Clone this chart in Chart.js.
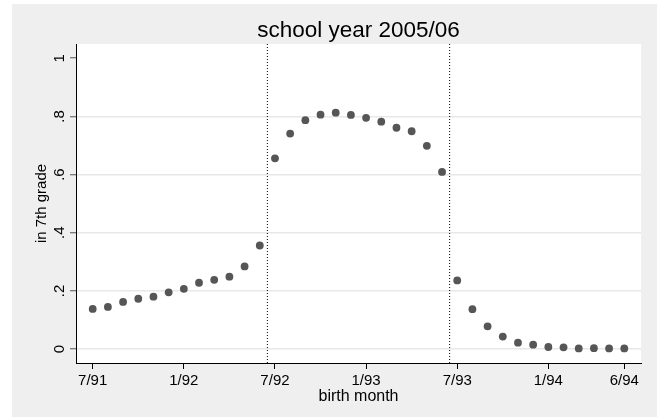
<!DOCTYPE html>
<html>
<head>
<meta charset="utf-8">
<script src="https://cdn.jsdelivr.net/npm/chart.js@4.4.1/dist/chart.umd.min.js"></script>
<style>
  html, body { margin: 0; padding: 0; background: #fff; }
  canvas { display: block; }
</style>
</head>
<body>
<canvas id="chart" width="657" height="417"></canvas>
<script>
// Birth months, July 1991 through June 1994
const birthMonths = [
  '7/91','8/91','9/91','10/91','11/91','12/91',
  '1/92','2/92','3/92','4/92','5/92','6/92',
  '7/92','8/92','9/92','10/92','11/92','12/92',
  '1/93','2/93','3/93','4/93','5/93','6/93',
  '7/93','8/93','9/93','10/93','11/93','12/93',
  '1/94','2/94','3/94','4/94','5/94','6/94'
];

// Share of each birth cohort attending 7th grade in 2005/06
const shareIn7thGrade = [
  0.138, 0.145, 0.162, 0.173, 0.180, 0.195,
  0.207, 0.228, 0.238, 0.249, 0.284, 0.356,
  0.656, 0.741, 0.787, 0.806, 0.813, 0.805,
  0.795, 0.782, 0.761, 0.749, 0.699, 0.609,
  0.236, 0.137, 0.078, 0.043, 0.022, 0.015,
  0.007, 0.006, 0.002, 0.003, 0.002, 0.002
];

// Axis ticks
const xTickMonths = [0, 6, 12, 18, 24, 30, 35];
const yTickValues = [0, 0.2, 0.4, 0.6, 0.8, 1];
const yTickLabels = ['0', '.2', '.4', '.6', '.8', '1'];

// School-entry cutoffs, between June and July
const cutoffMonths = [11.5, 23.5];

const Y_MIN = -0.048, Y_MAX = 1.049;
const FONT = '"Liberation Sans", Arial, Helvetica, sans-serif';

// Grey page with a white plot region
const backdrop = {
  id: 'backdrop',
  beforeDraw(chart) {
    const { ctx, chartArea: a } = chart;
    ctx.save();
    ctx.fillStyle = '#ffffff';
    ctx.fillRect(0, 0, chart.width, chart.height);
    ctx.fillStyle = '#efefef';
    ctx.fillRect(12, 4, chart.width - 12, chart.height - 4);
    ctx.fillStyle = '#ffffff';
    ctx.fillRect(a.left, a.top, a.right - a.left, a.bottom - a.top);
    ctx.restore();
  }
};

const cutoffSets = cutoffMonths.map(m => ({
  type: 'line',
  data: [{ x: m, y: Y_MIN }, { x: m, y: Y_MAX }],
  borderColor: '#000',
  borderWidth: 1,
  borderDash: [1, 2],
  pointRadius: 0,
  fill: false
}));

new Chart(document.getElementById('chart'), {
  type: 'scatter',
  data: {
    datasets: [
      {
        data: shareIn7thGrade.map((v, i) => ({ x: i, y: v })),
        pointRadius: 3.9,
        pointHoverRadius: 3.9,
        backgroundColor: '#565656',
        borderWidth: 0
      },
      ...cutoffSets
    ]
  },
  options: {
    responsive: false,
    animation: false,
    events: [],
    layout: { padding: { left: 0, right: 16, top: 0, bottom: 0 } },
    plugins: {
      legend: { display: false },
      tooltip: { enabled: false },
      title: {
        display: true,
        fullSize: false,
        text: 'school year 2005/06',
        color: '#000',
        font: { family: FONT, size: 22.5, weight: 'normal', lineHeight: 1.2 },
        padding: { top: 17, bottom: 0 }
      }
    },
    scales: {
      x: {
        type: 'linear',
        min: -1.1,
        max: 36.1,
        afterBuildTicks: s => { s.ticks = xTickMonths.map(v => ({ value: v })); },
        afterFit: s => { s.height = 54; },
        ticks: {
          autoSkip: false,
          maxRotation: 0,
          color: '#000',
          padding: 3,
          font: { family: FONT, size: 15 },
          callback: v => birthMonths[v]
        },
        grid: {
          drawOnChartArea: false,
          drawTicks: true,
          tickLength: 6,
          tickColor: '#000'
        },
        border: { display: true, color: '#000', width: 1 },
        title: {
          display: true,
          text: 'birth month',
          color: '#000',
          font: { family: FONT, size: 16, lineHeight: 1.2 },
          padding: { top: 0, bottom: 11 }
        }
      },
      y: {
        min: Y_MIN,
        max: Y_MAX,
        afterBuildTicks: s => { s.ticks = yTickValues.map(v => ({ value: v })); },
        afterFit: s => { s.width = 76; },
        ticks: {
          minRotation: 90,
          maxRotation: 90,
          crossAlign: 'center',
          color: '#000',
          padding: 4,
          font: { family: FONT, size: 15 },
          callback: v => yTickLabels[yTickValues.indexOf(v)]
        },
        grid: {
          color: c => (c.tick && c.tick.value === 1) ? 'rgba(0,0,0,0)' : '#e8e8e8',
          lineWidth: 1.5,
          tickLength: 6,
          tickColor: '#555',
          tickWidth: 1
        },
        border: { display: true, color: '#000', width: 1 },
        title: {
          display: true,
          text: 'in 7th grade',
          color: '#000',
          font: { family: FONT, size: 15, lineHeight: 1.2 },
          padding: { top: 33, bottom: 0 }
        }
      }
    }
  },
  plugins: [backdrop]
});
</script>
</body>
</html>
